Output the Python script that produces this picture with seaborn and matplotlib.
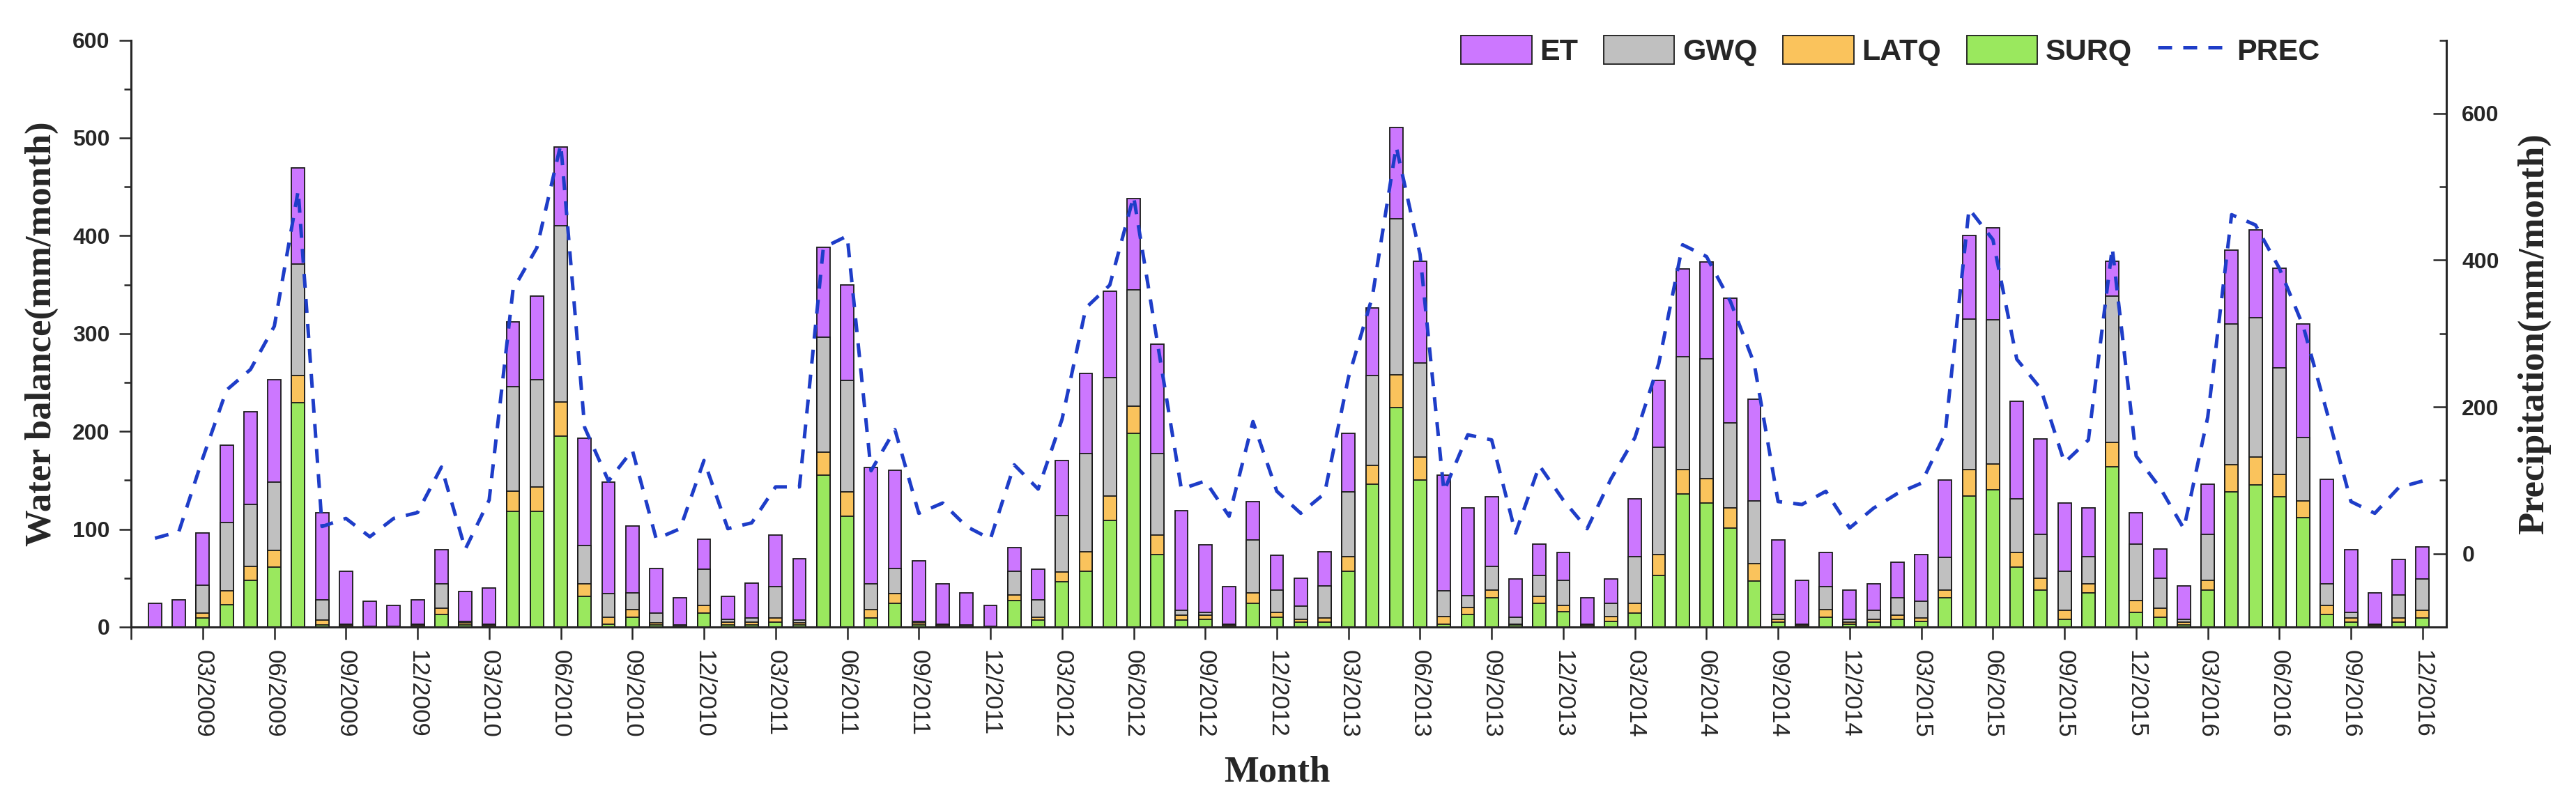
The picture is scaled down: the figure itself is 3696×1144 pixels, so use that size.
import numpy as np
import pandas as pd
import seaborn as sns
import matplotlib.pyplot as plt
from matplotlib.patches import Patch
from matplotlib.ticker import MultipleLocator, FixedLocator

# monthly values 01/2009 .. 12/2016
SURQ = [0, 0, 9, 23, 48, 61, 229, 2, 1, 0, 0, 1,
        13, 2, 1, 118, 118, 195, 31, 3, 10, 2, 0, 14,
        2, 2, 5, 2, 155, 113, 9, 24, 2, 1, 0, 0,
        27, 7, 46, 57, 109, 198, 74, 7, 8, 1, 24, 10,
        5, 5, 57, 146, 224, 150, 3, 13, 30, 2, 24, 16,
        1, 6, 14, 53, 136, 127, 101, 47, 5, 1, 10, 3,
        5, 8, 6, 30, 134, 140, 61, 38, 8, 35, 164, 15,
        10, 2, 38, 138, 145, 133, 112, 13, 5, 1, 5, 9]

LATQ = [0, 0, 5, 14, 14, 17, 28, 5, 1, 0, 0, 1,
        6, 2, 1, 21, 25, 35, 13, 7, 8, 2, 1, 8,
        3, 3, 4, 2, 24, 25, 9, 10, 2, 1, 1, 0,
        6, 3, 10, 20, 25, 28, 20, 5, 4, 1, 11, 5,
        3, 4, 15, 19, 34, 24, 8, 7, 8, 1, 7, 6,
        1, 5, 10, 21, 25, 25, 21, 18, 3, 1, 8, 2,
        3, 4, 3, 8, 27, 27, 15, 12, 9, 9, 25, 12,
        9, 3, 10, 28, 29, 23, 17, 9, 4, 1, 4, 8]

GWQ = [0, 0, 29, 70, 63, 70, 114, 21, 1, 1, 1, 1,
       25, 2, 1, 107, 110, 180, 39, 24, 17, 10, 1, 37,
       3, 4, 32, 3, 117, 114, 26, 26, 2, 1, 1, 1,
       24, 18, 58, 100, 121, 119, 83, 5, 3, 1, 54, 23,
       13, 33, 66, 92, 159, 96, 26, 12, 24, 7, 22, 26,
       1, 13, 48, 110, 115, 122, 87, 64, 5, 1, 23, 3,
       9, 18, 17, 33, 154, 147, 55, 45, 40, 28, 149, 58,
       31, 3, 47, 144, 142, 109, 65, 22, 6, 1, 24, 32]

ET = [24, 28, 53, 79, 95, 105, 98, 89, 54, 25, 21, 25,
      35, 30, 37, 66, 85, 81, 110, 114, 68, 46, 28, 31,
      23, 36, 53, 63, 92, 98, 119, 100, 62, 41, 33, 21,
      24, 31, 56, 82, 88, 93, 112, 102, 69, 38, 39, 35,
      29, 35, 60, 69, 94, 104, 118, 90, 71, 39, 32, 28,
      27, 25, 59, 68, 90, 99, 127, 104, 76, 45, 35, 30,
      27, 36, 48, 79, 85, 94, 100, 97, 70, 50, 36, 32,
      30, 34, 51, 75, 90, 102, 116, 107, 64, 32, 36, 33]

PREC = [21, 30, 130, 223, 251, 310, 495, 37, 48, 23, 48, 56,
        118, 6, 73, 360, 417, 558, 172, 99, 141, 20, 34, 127,
        34, 42, 91, 91, 417, 433, 113, 169, 55, 69, 37, 20,
        121, 88, 183, 335, 366, 487, 287, 88, 99, 51, 180, 85,
        55, 82, 240, 350, 555, 408, 85, 162, 155, 28, 120, 73,
        34, 102, 158, 259, 421, 405, 344, 259, 71, 67, 85, 35,
        62, 82, 96, 164, 470, 428, 265, 225, 124, 155, 417, 133,
        90, 34, 186, 462, 448, 389, 310, 192, 71, 55, 90, 99]

months = [f"{m:02d}/{y}" for y in range(2009, 2017) for m in range(1, 13)]

colors = {"ET": "#CC77FF", "GWQ": "#C0C0C0", "LATQ": "#FAC35C", "SURQ": "#9AE85E"}
line_color = "#1E3DC8"

df = pd.DataFrame({"month": months, "SURQ": SURQ, "LATQ": LATQ,
                   "GWQ": GWQ, "ET": ET, "PREC": PREC})
df["x"] = np.arange(len(df))
# stacked tops (bottom -> top: SURQ, LATQ, GWQ, ET)
df["top_SURQ"] = df["SURQ"]
df["top_LATQ"] = df["top_SURQ"] + df["LATQ"]
df["top_GWQ"] = df["top_LATQ"] + df["GWQ"]
df["top_ET"] = df["top_GWQ"] + df["ET"]

sns.set_style("ticks")
plt.rcParams["font.family"] = ["Liberation Sans", "DejaVu Sans"]

fig = plt.figure(figsize=(36.96, 11.44), dpi=100)
ax = fig.add_axes([0.0509, 0.2133, 0.8988, 0.7364])

# draw the tallest layer first, then cover it with lower ones
for name in ["ET", "GWQ", "LATQ", "SURQ"]:
    sns.barplot(data=df, x="x", y="top_" + name, color=colors[name],
                native_scale=True, width=0.55, saturation=1,
                edgecolor="#1a1a1a", linewidth=1.3, errorbar=None, ax=ax)

ax2 = ax.twinx()
sns.lineplot(data=df, x="x", y="PREC", color=line_color, linewidth=3.6,
             linestyle=(0, (4, 3.2)), ax=ax2)

ax.set_xlim(-1, 96)
ax.set_ylim(0, 600)
ax2.set_ylim(-100, 700)

ax.yaxis.set_major_locator(MultipleLocator(100))
ax.yaxis.set_minor_locator(MultipleLocator(50))
ax2.yaxis.set_major_locator(FixedLocator([0, 200, 400, 600]))
ax2.yaxis.set_minor_locator(FixedLocator([-100, 100, 300, 500, 700]))

ax.set_xticks(list(range(-1, 96, 3)))
ax.set_xticklabels([""] + months[2::3])

ax.tick_params(axis="y", which="major", direction="out", length=12, width=1.8,
               labelsize=23, pad=10)
ax.tick_params(axis="y", which="minor", direction="out", length=7.5, width=1.8)
ax.tick_params(axis="x", which="major", direction="out", length=13, width=1.8,
               labelsize=25, pad=11, labelrotation=-90)
ax2.tick_params(axis="y", which="major", direction="in", length=14, width=1.8,
                labelsize=23, pad=16)
ax2.tick_params(axis="y", which="minor", direction="in", length=7.5, width=1.8)

for lab in ax.get_yticklabels() + ax2.get_yticklabels():
    lab.set_fontweight("bold")

for side in ["top", "right"]:
    ax.spines[side].set_visible(False)
for side in ["top", "left", "bottom"]:
    ax2.spines[side].set_visible(False)
for sp in list(ax.spines.values()) + list(ax2.spines.values()):
    sp.set_linewidth(2.2)

label_font = dict(family=["Liberation Serif", "DejaVu Serif"], fontweight="bold", fontsize=38)
ax.set_xlabel("Month", va="center", **label_font)
ax.xaxis.set_label_coords(0.495, -0.248)
ax.set_ylabel("Water balance(mm/month)", va="center", **label_font)
ax.yaxis.set_label_coords(-0.0385, 0.5)
ax2.set_ylabel("Precipitation(mm/month)", va="center", rotation=90, **label_font)
ax2.yaxis.set_label_coords(1.0379, 0.5)

handles = [Patch(facecolor=colors[n], edgecolor="#1a1a1a", linewidth=1.3, label=n)
           for n in ["ET", "GWQ", "LATQ", "SURQ"]]
prec_line = ax2.get_lines()[0]
handles.append(prec_line)
ax2.legend(handles, ["ET", "GWQ", "LATQ", "SURQ", "PREC"], loc="center left",
           bbox_to_anchor=(0.5671, 0.9362), bbox_transform=fig.transFigure,
           ncol=5, frameon=False, borderpad=0, borderaxespad=0,
           handlelength=2.36, handleheight=1.1, handletextpad=0.27,
           columnspacing=0.85,
           prop={"family": "Liberation Sans", "weight": "bold", "size": 31})

fig.savefig("out.png", dpi=100, facecolor="white")
